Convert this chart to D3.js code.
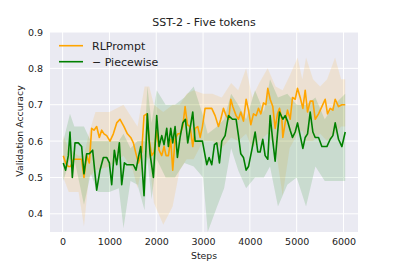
<!DOCTYPE html>
<html>
<head>
<meta charset="utf-8">
<script src="https://cdn.jsdelivr.net/npm/d3@7"></script>
<style>
  body { margin: 0; background: #fff; }
  text { font-family: "DejaVu Sans", sans-serif; fill: #222; }
</style>
</head>
<body>
<script>
"use strict";

// tick labels
var xTicks = [0, 1000, 2000, 3000, 4000, 5000, 6000];
var yTicks = [0.4, 0.5, 0.6, 0.7, 0.8, 0.9];

// RLPrompt mean line
var orangeSteps = [14, 64, 121, 171, 228, 335, 406, 456, 513, 570, 620, 670, 727, 784, 834, 884, 941, 1012, 1083, 1155,
  1226, 1311, 1383, 1454, 1511, 1568, 1618, 1689, 1739, 1796, 1853, 1903, 1953, 2010, 2060, 2117, 2167, 2210, 2259, 2309,
  2352, 2402, 2459, 2509, 2566, 2616, 2666, 2723, 2780, 2830, 2887, 2937, 2986, 3043, 3115, 3186, 3257, 3329, 3378, 3435,
  3492, 3549, 3592, 3635, 3706, 3756, 3806, 3863, 3920, 3970, 4020, 4077, 4134, 4184, 4234, 4291, 4341, 4383, 4433, 4490,
  4540, 4590, 4633, 4683, 4704, 4754, 4804, 4861, 4911, 4968, 5018, 5075, 5132, 5182, 5232, 5289, 5346, 5396, 5467, 5538,
  5609, 5659, 5716, 5773, 5823, 5894, 5966, 6037];
var orangeVals = [0.56, 0.54, 0.53, 0.53, 0.55, 0.55, 0.55, 0.50, 0.56, 0.54, 0.635, 0.63, 0.64, 0.61, 0.63, 0.62, 0.615, 0.60, 0.62, 0.65,
  0.66, 0.64, 0.62, 0.61, 0.595, 0.565, 0.54, 0.57, 0.67, 0.675, 0.60, 0.56, 0.57, 0.63, 0.575, 0.56, 0.585, 0.56, 0.56, 0.605,
  0.52, 0.605, 0.62, 0.62, 0.64, 0.695, 0.645, 0.64, 0.585, 0.635, 0.64, 0.61, 0.64, 0.69, 0.69, 0.69, 0.67, 0.64, 0.66, 0.69,
  0.67, 0.66, 0.715, 0.695, 0.67, 0.66, 0.68, 0.655, 0.715, 0.685, 0.645, 0.675, 0.67, 0.69, 0.675, 0.705, 0.70, 0.745, 0.715, 0.695,
  0.635, 0.675, 0.69, 0.66, 0.61, 0.65, 0.685, 0.66, 0.72, 0.715, 0.745, 0.72, 0.69, 0.74, 0.68, 0.71, 0.71, 0.66, 0.675, 0.695,
  0.715, 0.675, 0.69, 0.685, 0.715, 0.695, 0.70, 0.70];

// RLPrompt spread band
var orangeBandSteps = [14, 130, 340, 456, 560, 700, 1000, 1300, 1500, 1600, 1750, 1850, 1950, 2150, 2350, 2500, 2650, 2800, 3000, 3200,
  3400, 3600, 3750, 3920, 4050, 4200, 4380, 4550, 4700, 4850, 5020, 5120, 5200, 5350, 5500, 5650, 5820, 5950, 6037];
var orangeHi = [0.615, 0.58, 0.56, 0.56, 0.62, 0.68, 0.68, 0.70, 0.66, 0.64, 0.75, 0.75, 0.70, 0.68, 0.70, 0.70, 0.73, 0.74, 0.73, 0.73,
  0.72, 0.76, 0.74, 0.80, 0.72, 0.76, 0.80, 0.75, 0.74, 0.78, 0.83, 0.77, 0.83, 0.77, 0.75, 0.77, 0.83, 0.77, 0.77];
var orangeLo = [0.50, 0.46, 0.46, 0.365, 0.50, 0.52, 0.53, 0.56, 0.52, 0.47, 0.56, 0.55, 0.43, 0.37, 0.42, 0.52, 0.55, 0.55, 0.60, 0.60,
  0.58, 0.61, 0.60, 0.62, 0.58, 0.60, 0.62, 0.58, 0.45, 0.58, 0.62, 0.63, 0.60, 0.60, 0.62, 0.60, 0.62, 0.64, 0.64];

// Piecewise mean line
var greenSteps = [14, 64, 121, 157, 207, 264, 335, 406, 456, 513, 570, 641, 727, 798, 870, 941, 998, 1048, 1105, 1155,
  1212, 1262, 1319, 1368, 1440, 1511, 1568, 1618, 1668, 1739, 1810, 1867, 1939, 2010, 2060, 2117, 2167, 2224, 2259, 2309,
  2352, 2402, 2452, 2509, 2566, 2623, 2673, 2723, 2780, 2830, 2901, 2986, 3079, 3129, 3186, 3243, 3293, 3350, 3400, 3471,
  3543, 3628, 3706, 3756, 3806, 3863, 3920, 3970, 4041, 4113, 4170, 4219, 4276, 4326, 4383, 4433, 4490, 4540, 4590, 4633,
  4704, 4754, 4804, 4861, 4911, 4968, 5018, 5075, 5132, 5182, 5232, 5289, 5346, 5396, 5467, 5538, 5645, 5716, 5773, 5823,
  5894, 5966, 6037];
var greenVals = [0.54, 0.52, 0.56, 0.625, 0.50, 0.595, 0.595, 0.585, 0.51, 0.565, 0.565, 0.575, 0.465, 0.52, 0.555, 0.555, 0.54, 0.48, 0.575, 0.535,
  0.595, 0.48, 0.54, 0.535, 0.535, 0.535, 0.52, 0.555, 0.585, 0.45, 0.675, 0.565, 0.50, 0.67, 0.585, 0.615, 0.59, 0.635, 0.585, 0.635,
  0.595, 0.64, 0.555, 0.61, 0.65, 0.66, 0.595, 0.635, 0.68, 0.60, 0.60, 0.60, 0.535, 0.555, 0.535, 0.59, 0.595, 0.54, 0.60, 0.615,
  0.67, 0.66, 0.66, 0.615, 0.565, 0.555, 0.52, 0.53, 0.575, 0.625, 0.57, 0.57, 0.605, 0.56, 0.55, 0.67, 0.60, 0.545, 0.62, 0.68,
  0.66, 0.67, 0.655, 0.63, 0.61, 0.625, 0.65, 0.615, 0.58, 0.61, 0.62, 0.68, 0.625, 0.61, 0.61, 0.585, 0.585, 0.605, 0.615, 0.65,
  0.605, 0.585, 0.625];

// Piecewise spread band
var greenBandSteps = [14, 157, 250, 456, 600, 750, 1000, 1200, 1300, 1450, 1600, 1750, 1810, 1900, 2010, 2200, 2400, 2600, 2800, 3000,
  3100, 3300, 3450, 3600, 3750, 3920, 4110, 4300, 4430, 4600, 4800, 5000, 5200, 5400, 5600, 5800, 6037];
var greenHi = [0.60, 0.675, 0.64, 0.64, 0.60, 0.60, 0.60, 0.60, 0.62, 0.58, 0.60, 0.60, 0.75, 0.65, 0.74, 0.70, 0.70, 0.72, 0.75, 0.67,
  0.62, 0.64, 0.66, 0.73, 0.70, 0.66, 0.74, 0.68, 0.77, 0.72, 0.73, 0.70, 0.70, 0.72, 0.66, 0.70, 0.73];
var greenLo = [0.49, 0.55, 0.55, 0.425, 0.51, 0.46, 0.46, 0.47, 0.36, 0.49, 0.48, 0.41, 0.55, 0.44, 0.55, 0.50, 0.50, 0.54, 0.53, 0.50,
  0.35, 0.42, 0.47, 0.58, 0.52, 0.47, 0.50, 0.50, 0.53, 0.42, 0.48, 0.50, 0.42, 0.53, 0.49, 0.49, 0.49];

var seriesNames = ["RLPrompt", "\u2212 Piecewise"];

(function() {
  window.addEventListener('load', init);

  var svg;

  function init() {
    var width = 399, height = 266;
    var margin = {top: 32, right: 41, bottom: 34, left: 50};
    var w = width - margin.left - margin.right;
    var h = height - margin.top - margin.bottom;

    svg = d3.select('body').append('svg')
      .attr('width', width)
      .attr('height', height);

    var g = svg.append('g')
      .attr('transform', 'translate(' + margin.left + ',' + margin.top + ')');

    var x = d3.scaleLinear().domain([-270, 6310]).range([0, w]);
    var y = d3.scaleLinear().domain([0.35, 0.9]).range([h, 0]);

    // seaborn style background
    g.append('rect')
      .attr('width', w)
      .attr('height', h)
      .attr('fill', '#eaeaf2');

    // grid lines
    g.selectAll('.xgrid').data(xTicks).enter().append('line')
      .attr('x1', function(d) { return x(d); })
      .attr('x2', function(d) { return x(d); })
      .attr('y1', 0).attr('y2', h)
      .attr('stroke', '#fff').attr('stroke-width', 1);
    g.selectAll('.ygrid').data(yTicks).enter().append('line')
      .attr('y1', function(d) { return y(d); })
      .attr('y2', function(d) { return y(d); })
      .attr('x1', 0).attr('x2', w)
      .attr('stroke', '#fff').attr('stroke-width', 1);

    // axes (no domain line, no ticks)
    var xAxis = g.append('g')
      .attr('transform', 'translate(0,' + h + ')')
      .call(d3.axisBottom(x).tickValues(xTicks).tickSize(0).tickPadding(6).tickFormat(d3.format('d')));
    var yAxis = g.append('g')
      .call(d3.axisLeft(y).tickValues(yTicks).tickSize(0).tickPadding(7).tickFormat(d3.format('.1f')));
    [xAxis, yAxis].forEach(function(a) {
      a.select('.domain').remove();
      a.selectAll('text')
        .attr('fill', '#222')
        .style('font-family', '"DejaVu Sans", sans-serif')
        .style('font-size', '9.5px');
    });

    // bands
    function band(steps, lo, hi) {
      var pts = steps.map(function(s, i) { return {s: s, lo: lo[i], hi: hi[i]}; });
      return d3.area()
        .x(function(d) { return x(d.s); })
        .y0(function(d) { return y(d.lo); })
        .y1(function(d) { return y(d.hi); })(pts);
    }
    g.append('path')
      .attr('d', band(orangeBandSteps, orangeLo, orangeHi))
      .attr('fill', 'rgb(255,165,0)').attr('fill-opacity', 0.13);
    g.append('path')
      .attr('d', band(greenBandSteps, greenLo, greenHi))
      .attr('fill', 'rgb(0,128,0)').attr('fill-opacity', 0.14);

    // mean lines
    function line(steps, vals) {
      return d3.line()
        .x(function(d) { return x(d[0]); })
        .y(function(d) { return y(d[1]); })(d3.zip(steps, vals));
    }
    g.append('path')
      .attr('d', line(orangeSteps, orangeVals))
      .attr('fill', 'none').attr('stroke', '#ffa500').attr('stroke-width', 1.6)
      .attr('stroke-linejoin', 'round');
    g.append('path')
      .attr('d', line(greenSteps, greenVals))
      .attr('fill', 'none').attr('stroke', '#008000').attr('stroke-width', 1.6)
      .attr('stroke-linejoin', 'round');

    // legend
    var colors = ['#ffa500', '#008000'];
    var leg = g.selectAll('.leg').data(seriesNames).enter().append('g')
      .attr('transform', function(d, i) { return 'translate(9,' + (13.7 + i * 16) + ')'; });
    leg.append('line')
      .attr('x1', 0).attr('x2', 24)
      .attr('stroke', function(d, i) { return colors[i]; })
      .attr('stroke-width', 1.6);
    leg.append('text')
      .attr('x', 33).attr('dy', '0.35em')
      .style('font-size', '11px')
      .text(function(d) { return d; });

    // title and axis labels
    svg.append('text')
      .attr('x', margin.left + w / 2).attr('y', 22.5)
      .attr('dy', '0.35em')
      .attr('text-anchor', 'middle')
      .style('font-size', '11px')
      .text('SST-2 - Five tokens');
    svg.append('text')
      .attr('x', margin.left + w / 2).attr('y', 256)
      .attr('dy', '0.35em')
      .attr('text-anchor', 'middle')
      .style('font-size', '9.3px')
      .text('Steps');
    svg.append('text')
      .attr('transform', 'translate(20,' + 131 + ') rotate(-90)')
      .attr('dy', '0.35em')
      .attr('text-anchor', 'middle')
      .style('font-size', '9.3px')
      .text('Validation Accuracy');
  }
})();
</script>
</body>
</html>
